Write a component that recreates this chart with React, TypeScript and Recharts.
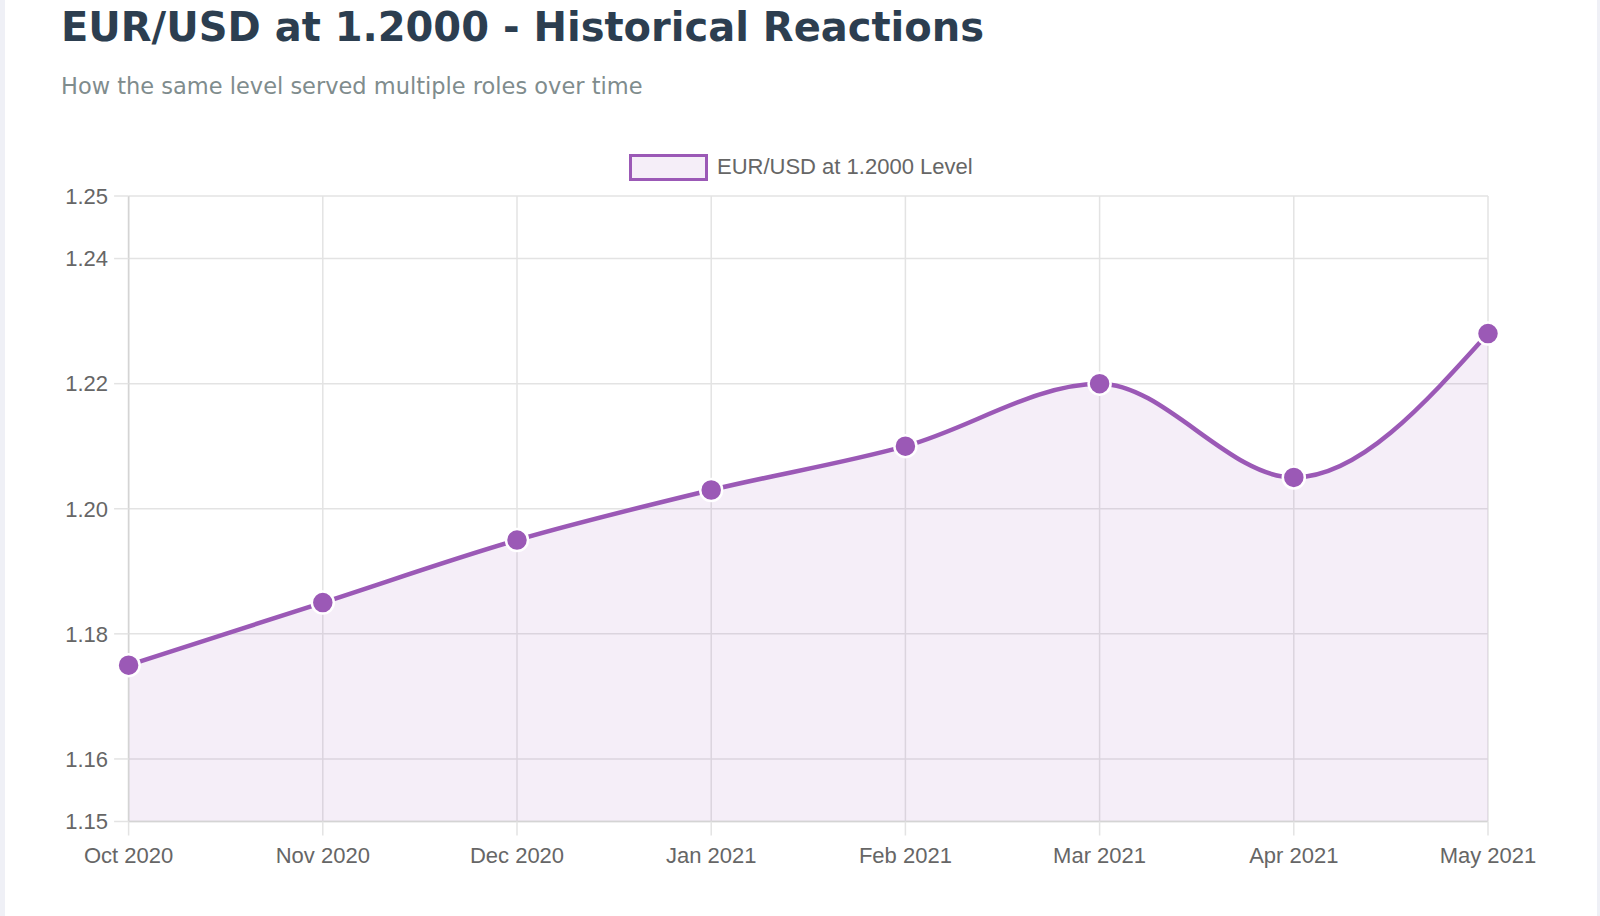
import React from 'react';
import {
  AreaChart,
  Area,
  XAxis,
  YAxis,
  CartesianGrid,
} from 'recharts';

const months = ['Oct 2020', 'Nov 2020', 'Dec 2020', 'Jan 2021', 'Feb 2021', 'Mar 2021', 'Apr 2021', 'May 2021'];
const rates = [1.175, 1.185, 1.195, 1.203, 1.21, 1.22, 1.205, 1.228];
const yTicks = [1.15, 1.16, 1.18, 1.2, 1.22, 1.24, 1.25];

const seriesName = 'EUR/USD at 1.2000 Level';
const purple = '#9b59b6';

const data = months.map((month, i) => ({ month, rate: rates[i] }));

const tickStyle = { fill: '#666666', fontSize: 22, fontFamily: '"Liberation Sans", Arial, sans-serif' };

export default function App() {
  return (
    <div style={{ position: 'absolute', left: 0, top: 0, width: 1600, height: 916, background: '#eff0f6', overflow: 'hidden' }}>
      <div style={{ position: 'absolute', left: 5, top: 0, width: 1592, height: 916, background: '#ffffff' }} />

      {/* title + subtitle */}
      <svg width={1600} height={110} style={{ position: 'absolute', left: 0, top: 0 }}>
        <text x={61} y={40.5} fill="#2c3e50" fontSize={40} fontWeight="bold" fontFamily='"DejaVu Sans", Verdana, sans-serif'>
          EUR/USD at 1.2000 - Historical Reactions
        </text>
        <text x={61} y={94} fill="#7f8c8d" fontSize={22.5} fontFamily='"DejaVu Sans", Verdana, sans-serif'>
          How the same level served multiple roles over time
        </text>
      </svg>

      {/* legend */}
      <div style={{ position: 'absolute', left: 629, top: 154, width: 79, height: 27, boxSizing: 'border-box', border: `3px solid ${purple}`, background: '#f5eef8' }} />
      <svg width={400} height={40} style={{ position: 'absolute', left: 700, top: 145 }}>
        <text x={17} y={29} fill="#666666" fontSize={22} fontFamily='"Liberation Sans", Arial, sans-serif'>
          {seriesName}
        </text>
      </svg>

      <div style={{ position: 'absolute', left: 0, top: 0 }}>
        <AreaChart
          width={1600}
          height={916}
          data={data}
          margin={{ top: 196, right: 112, bottom: 34.5, left: 8 }}
        >
          <CartesianGrid stroke="#e3e3e3" strokeWidth={1.5} />
          <XAxis
            dataKey="month"
            height={60}
            tick={tickStyle}
            tickSize={14}
            tickMargin={11.5}
            tickLine={{ stroke: '#e3e3e3', strokeWidth: 1.5 }}
            axisLine={{ stroke: '#d4d4d4', strokeWidth: 1.5 }}
            interval={0}
          />
          <YAxis
            type="number"
            domain={[1.15, 1.25]}
            ticks={yTicks}
            width={120.6}
            tick={tickStyle}
            tickSize={14.5}
            tickMargin={6}
            tickLine={{ stroke: '#e3e3e3', strokeWidth: 1.5 }}
            axisLine={{ stroke: '#d4d4d4', strokeWidth: 1.5 }}
            tickFormatter={(v: number) => v.toFixed(2)}
            allowDataOverflow
          />
          <Area
            type="monotone"
            dataKey="rate"
            name={seriesName}
            stroke={purple}
            strokeWidth={4.5}
            fill={purple}
            fillOpacity={0.1}
            dot={{ r: 11, fill: purple, stroke: '#ffffff', strokeWidth: 2.5, fillOpacity: 1 }}
            activeDot={false}
            isAnimationActive={false}
          />
        </AreaChart>
      </div>
    </div>
  );
}
